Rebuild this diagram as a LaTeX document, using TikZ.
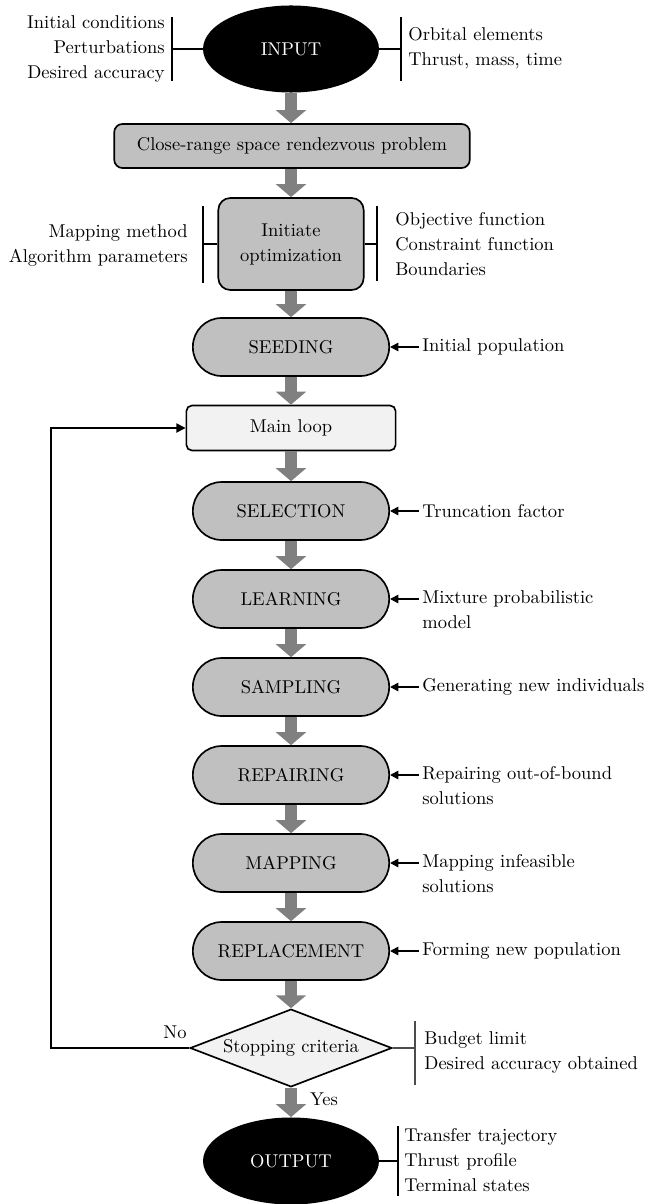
\documentclass[tikz,border=0pt]{standalone}
\usetikzlibrary{shapes.geometric,arrows.meta}
\definecolor{procgray}{HTML}{C0C0C0}
\definecolor{lightbox}{HTML}{F2F2F2}
\definecolor{arrgray}{HTML}{808080}
\begin{document}
\begin{tikzpicture}[x=0.54pt,y=-0.54pt,
  every node/.style={font=\fontsize{10}{13.5}\selectfont},
  term/.style={ellipse, fill=black, text=white, minimum width=95pt, minimum height=47pt, inner sep=0pt},
  proc/.style={draw=black, line width=0.9pt, fill=procgray, rounded corners=15.5pt, minimum width=106pt, minimum height=31.3pt, inner sep=0pt},
  bigarrow/.style={draw=arrgray, line width=6pt, -{Triangle[length=7pt,width=16pt]}},
  sidearrow/.style={draw=black, line width=0.9pt, -{Triangle[length=4.5pt,width=4.5pt]}},
  bar/.style={draw=black, line width=0.7pt},
  side/.style={inner sep=0pt},
  lab/.style={inner sep=0pt}
]
\useasboundingbox (0,0) rectangle (651,1204);

% INPUT
\node[term] (input) at (291,49) {INPUT};
\node[side, align=right, anchor=east] (inL) at (165,49) {Initial conditions\\Perturbations\\Desired accuracy};
\node[side, align=left, anchor=west] (inR) at (408,48) {Orbital elements\\Thrust, mass, time};
\coordinate (inLb) at (172,49);
\coordinate (inRb) at (401,49);
\draw[bar] (172,17) -- (172,81);
\draw[bar] (401,17) -- (401,81);
\draw[bar] (inLb) -- (input.west);
\draw[bar] (input.east) -- (inRb);

% Close-range problem
\node[draw=black, line width=0.9pt, fill=procgray, rounded corners=4.5pt, minimum width=192pt, minimum height=23.8pt, inner sep=0pt] (crp) at (292,146) {Close-range space rendezvous problem};

% Initiate optimization
\node[draw=black, line width=0.9pt, fill=procgray, rounded corners=6.5pt, minimum width=78.5pt, minimum height=49.7pt, inner sep=0pt, align=center] (init) at (291,244) {Initiate\\optimization};
\node[side, align=right, anchor=east] (initL) at (188,245) {Mapping method\\Algorithm parameters};
\node[side, align=left, anchor=west] (initR) at (395,244) {Objective function\\Constraint function\\Boundaries};
\coordinate (initLb) at (203,244);
\coordinate (initRb) at (377,244);
\draw[bar] (203,206) -- (203,283);
\draw[bar] (377,206) -- (377,281);
\draw[bar] (initLb) -- (init.west);
\draw[bar] (init.east) -- (initRb);

% Seeding
\node[proc] (seed) at (291,347) {SEEDING};

% Main loop
\node[draw=black, line width=0.9pt, fill=lightbox, rounded corners=3pt, minimum width=113pt, minimum height=24.3pt, inner sep=0pt] (main) at (291,428) {Main loop};

% Stages
\node[proc] (sel) at (291,511) {SELECTION};
\node[proc] (learn) at (291,599) {LEARNING};
\node[proc] (samp) at (291,687) {SAMPLING};
\node[proc] (rep) at (291,775) {REPAIRING};
\node[proc] (map) at (291,863) {MAPPING};
\node[proc] (repl) at (291,951) {REPLACEMENT};

\foreach \n in {seed,sel,learn,samp,rep,map,repl}{
  \coordinate (\n A) at ([xshift=15.7pt]\n.east);
}
\node[side, anchor=west] (seedR) at ([xshift=1.6pt]seedA) {Initial population};
\node[side, anchor=west] (selR) at ([xshift=1.6pt]selA) {Truncation factor};
\node[side, anchor=north west, align=left] (learnR) at ([xshift=1.6pt,yshift=4.6pt]learnA) {Mixture probabilistic\\model};
\node[side, anchor=west] (sampR) at ([xshift=1.6pt]sampA) {Generating new individuals};
\node[side, anchor=north west, align=left] (repR) at ([xshift=1.6pt,yshift=4.6pt]repA) {Repairing out-of-bound\\solutions};
\node[side, anchor=north west, align=left] (mapR) at ([xshift=1.6pt,yshift=4.6pt]mapA) {Mapping infeasible\\solutions};
\node[side, anchor=west] (replR) at ([xshift=1.6pt]replA) {Forming new population};
\draw[sidearrow] (seedA) -- (seed.east);
\draw[sidearrow] (selA) -- (sel.east);
\draw[sidearrow] (learnA) -- (learn.east);
\draw[sidearrow] (sampA) -- (samp.east);
\draw[sidearrow] (repA) -- (rep.east);
\draw[sidearrow] (mapA) -- (map.east);
\draw[sidearrow] (replA) -- (repl.east);

% Stopping criteria
\node[diamond, draw=black, line width=0.9pt, fill=lightbox, minimum width=109pt, minimum height=42pt, inner sep=0pt, aspect=2.6] (stop) at (291,1048) {Stopping criteria};
\node[side, align=left, anchor=west] (stopR) at (424,1052) {Budget limit\\Desired accuracy obtained};
\coordinate (stopRb) at (415,1048);
\draw[draw=black!70, line width=0.7pt] (415,1021) -- (415,1085);
\draw[draw=black!70, line width=0.7pt] (stop.east) -- (stopRb);
\node[lab] (no) at (175,1032) {No};
\node[lab] (yes) at (324,1099) {Yes};

% Output
\node[term] (output) at (291,1161) {OUTPUT};
\node[side, align=left, anchor=west] (outR) at (404,1160) {Transfer trajectory\\Thrust profile\\Terminal states};
\coordinate (outRb) at (398,1161);
\draw[bar] (398,1126) -- (398,1196);
\draw[bar] (output.east) -- (outRb);

% feedback loop
\coordinate (lpA) at (51,1048);
\coordinate (lpB) at (51,428);
\draw[draw=black, line width=0.9pt, -{Triangle[length=5pt,width=5pt]}] (stop.west) -- (lpA) -- (lpB) -- (main.west);

% big arrows
\draw[bigarrow] (input.south) -- (crp.north -| input.south);
\draw[bigarrow] (crp.south -| init.north) -- (init.north);
\draw[bigarrow] (init.south) -- (seed.north);
\draw[bigarrow] (seed.south) -- (main.north);
\draw[bigarrow] (main.south) -- (sel.north);
\draw[bigarrow] (sel.south) -- (learn.north);
\draw[bigarrow] (learn.south) -- (samp.north);
\draw[bigarrow] (samp.south) -- (rep.north);
\draw[bigarrow] (rep.south) -- (map.north);
\draw[bigarrow] (map.south) -- (repl.north);
\draw[bigarrow] (repl.south) -- (stop.north);
\draw[bigarrow] (stop.south) -- (output.north);
\end{tikzpicture}
\end{document}
